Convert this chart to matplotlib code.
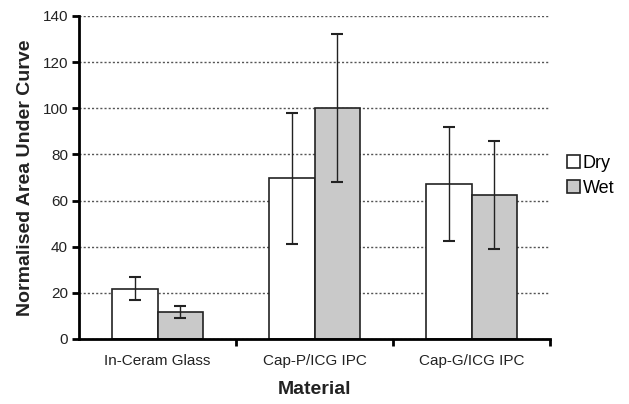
import matplotlib
matplotlib.use("Agg")
import matplotlib.pyplot as plt
import numpy as np

plt.rcParams['font.family'] = ['Liberation Sans', 'DejaVu Sans']

categories = ["In-Ceram Glass", "Cap-P/ICG IPC", "Cap-G/ICG IPC"]
dry = [21.7, 69.6, 67.2]
dry_err = [5.0, 28.4, 24.6]
wet = [11.7, 100.0, 62.4]
wet_err = [2.4, 32.0, 23.3]
yticks = [0, 20, 40, 60, 80, 100, 120, 140]

fig = plt.figure(figsize=(6.29, 4.04), dpi=100)
ax = fig.add_axes([79/629, 1-339/404, (550-79)/629, (339-16)/404])

x = np.arange(len(categories))
w = 0.29
ax.set_axisbelow(True)
ax.yaxis.grid(True, linestyle=(0, (1.5, 1.5)), color='#555555', linewidth=1.0)
ek = dict(ecolor='#222222', elinewidth=1.0, capsize=4, capthick=1.5)
ax.bar(x - w/2, dry, w, yerr=dry_err, color='white', edgecolor='#222222', linewidth=1.2, label='Dry', error_kw=ek)
ax.bar(x + w/2, wet, w, yerr=wet_err, color='#c9c9c9', edgecolor='#222222', linewidth=1.2, label='Wet', error_kw=ek)

ax.set_xlim(-0.5, 2.5)
ax.set_ylim(0, 140)
ax.set_yticks(yticks)
ax.set_xticks(x)
ax.set_xticklabels(categories, fontsize=11, color='#222222')
ax.tick_params(axis='x', length=0, pad=11)
ax.set_xticks([0.5, 1.5, 2.5], minor=True)
ax.tick_params(axis='x', which='minor', length=5, width=2, direction='out')
ax.tick_params(axis='y', length=5, width=2, direction='out', labelsize=11, labelcolor='#222222', pad=3)
for s in ['top', 'right']:
    ax.spines[s].set_visible(False)
ax.spines['left'].set_linewidth(2)
ax.spines['bottom'].set_linewidth(2)
ax.set_ylabel("Normalised Area Under Curve", fontsize=14, fontweight='bold', color='#222222', labelpad=6)
ax.set_xlabel("Material", fontsize=14, fontweight='bold', color='#222222', labelpad=9)

leg = ax.legend(loc='upper left', bbox_to_anchor=(1.016, 0.598), frameon=False, fontsize=13,
                handlelength=0.75, handleheight=0.75, handletextpad=0.15, labelspacing=0.45, borderpad=0)
fig.savefig("out.png", dpi=100)
